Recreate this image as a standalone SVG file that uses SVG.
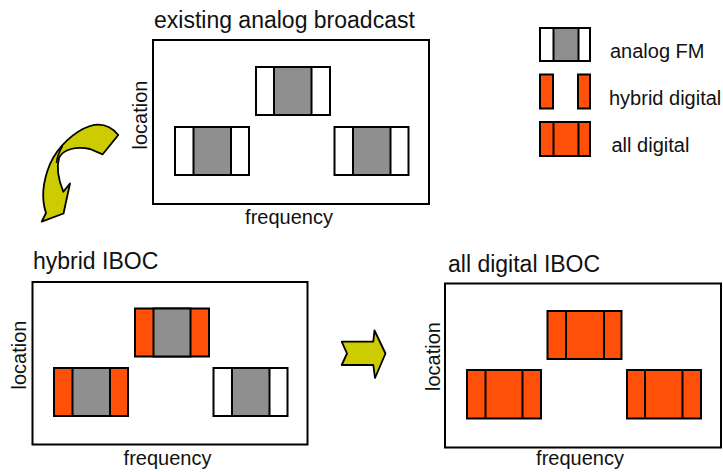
<svg xmlns="http://www.w3.org/2000/svg" width="723" height="472" viewBox="0 0 723 472">
<style>
text{font-family:"Liberation Sans",Arial,sans-serif;fill:#111}
.title{font-size:23px}
.lbl{font-size:20px}
.frame{fill:#fff;stroke:#000;stroke-width:2}
.w{fill:#fff;stroke:#000;stroke-width:2}
.g{fill:#8f8f8f;stroke:#000;stroke-width:2}
.o{fill:#ff5009;stroke:#000;stroke-width:2}
.arrow{fill:#cccc00;stroke:#000;stroke-width:1.8;stroke-linejoin:round}
</style>
<rect width="723" height="472" fill="#fff"/>

<g id="panel-analog">
<text class="title" x="154" y="28">existing analog broadcast</text>
<rect class="frame" x="153" y="40" width="276" height="164"/>
<text class="lbl" text-anchor="middle" transform="translate(147,115) rotate(-90)">location</text>
<text class="lbl" x="289" y="224" text-anchor="middle">frequency</text>
<g id="a-top"><rect class="w" x="256" y="67" width="74" height="48"/><rect class="g" x="274" y="67" width="37.5" height="48"/></g>
<g id="a-left"><rect class="w" x="175" y="127" width="74" height="48"/><rect class="g" x="193.5" y="127" width="37.5" height="48"/></g>
<g id="a-right"><rect class="w" x="334.5" y="127" width="74" height="48"/><rect class="g" x="353" y="127" width="37.5" height="48"/></g>
</g>

<g id="legend">
<g id="leg-analog"><rect class="w" x="540" y="28" width="50" height="33"/><rect class="g" x="553.5" y="28" width="25" height="33"/>
<text class="lbl" x="610" y="58">analog FM</text></g>
<g id="leg-hybrid"><rect class="o" x="540" y="74.5" width="13" height="34"/><rect class="o" x="578" y="74.5" width="12" height="34"/>
<text class="lbl" x="609" y="105">hybrid digital</text></g>
<g id="leg-digital"><rect class="o" x="540" y="122" width="50" height="34"/><line x1="553.5" y1="122" x2="553.5" y2="156" stroke="#000" stroke-width="2"/><line x1="578.5" y1="122" x2="578.5" y2="156" stroke="#000" stroke-width="2"/>
<text class="lbl" x="611.5" y="152">all digital</text></g>
</g>

<g id="panel-hybrid">
<text class="title" x="33" y="269">hybrid IBOC</text>
<rect class="frame" x="32.5" y="282" width="275" height="162.5"/>
<text class="lbl" text-anchor="middle" transform="translate(26,355) rotate(-90)">location</text>
<text class="lbl" x="167.5" y="465" text-anchor="middle">frequency</text>
<g id="h-top"><rect class="o" x="135" y="308.5" width="74" height="48"/><rect class="g" x="153.5" y="308.5" width="37" height="48"/></g>
<g id="h-left"><rect class="o" x="54" y="368" width="74" height="48"/><rect class="g" x="72.5" y="368" width="37.5" height="48"/></g>
<g id="h-right"><rect class="w" x="213.5" y="368" width="74" height="48"/><rect class="g" x="232" y="368" width="37.5" height="48"/></g>
</g>

<g id="panel-digital">
<text class="title" x="448" y="271.5">all digital IBOC</text>
<rect class="frame" x="445" y="283.5" width="276" height="164"/>
<text class="lbl" text-anchor="middle" transform="translate(439.5,356.5) rotate(-90)">location</text>
<text class="lbl" x="580" y="465" text-anchor="middle">frequency</text>
<g id="d-top"><rect class="o" x="547.5" y="311" width="74" height="48"/><line x1="566" y1="311" x2="566" y2="359" stroke="#000" stroke-width="2"/><line x1="604" y1="311" x2="604" y2="359" stroke="#000" stroke-width="2"/></g>
<g id="d-left"><rect class="o" x="467" y="370" width="74" height="48.5"/><line x1="485.5" y1="370" x2="485.5" y2="418.5" stroke="#000" stroke-width="2"/><line x1="522.5" y1="370" x2="522.5" y2="418.5" stroke="#000" stroke-width="2"/></g>
<g id="d-right"><rect class="o" x="627" y="370" width="74" height="48.5"/><line x1="645" y1="370" x2="645" y2="418.5" stroke="#000" stroke-width="2"/><line x1="682.5" y1="370" x2="682.5" y2="418.5" stroke="#000" stroke-width="2"/></g>
</g>

<g id="connectors">
<path class="arrow" d="M118.3,135 C110,125 100,123 90,126 C75,131 58,146 50,164 C43,181 41,198 46,213 L41.7,221.7 L63.5,213.5 L70,183.5 L63.3,191.7 C58.5,180 56.5,167 59,158 C63,149 77,146 90,149 L102.7,154.3 Z"/>
<path d="M62.5,146 C59,152 57,156 56.5,163" fill="none" stroke="#000" stroke-width="1.5"/>
<path class="arrow" d="M341.7,341.7 L373.3,341.7 L374.5,330.5 L385.5,353.5 L375,378 L373.3,365 L341.7,365 L347,353.5 Z"/>
</g>
</svg>
